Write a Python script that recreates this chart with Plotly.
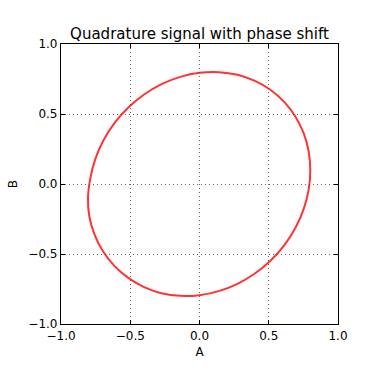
import plotly.graph_objects as go

# Points (closed loop)
A = [0.800, 0.788, 0.752, 0.693, 0.613, 0.514, 0.400, 0.274, 0.139, 0.000,
     -0.139, -0.274, -0.400, -0.514, -0.613, -0.693, -0.752, -0.788, -0.805,
     -0.795, -0.757, -0.697, -0.615, -0.514, -0.400, -0.274, -0.139, 0.000,
     0.139, 0.274, 0.400, 0.514, 0.613, 0.693, 0.752, 0.788, 0.800]
B = [0.098, 0.234, 0.363, 0.481, 0.585, 0.671, 0.736, 0.780, 0.799, 0.794,
     0.765, 0.713, 0.639, 0.546, 0.436, 0.313, 0.180, 0.042, -0.098,
     -0.234, -0.363, -0.481, -0.585, -0.671, -0.736, -0.780, -0.799, -0.794,
     -0.765, -0.713, -0.639, -0.546, -0.436, -0.313, -0.180, -0.042, 0.098]

tick_vals = [-1.0, -0.5, 0.0, 0.5, 1.0]
tick_text = ["\u22121.0", "\u22120.5", "0.0", "0.5", "1.0"]

fig = go.Figure()
fig.add_trace(go.Scatter(
    x=A, y=B, mode="lines",
    line=dict(color="rgba(255,0,0,0.8)", width=2, shape="spline", smoothing=1.0),
    hoverinfo="skip", showlegend=False,
))

axis_common = dict(
    range=[-1, 1], tickvals=tick_vals, ticktext=tick_text,
    showgrid=True, gridcolor="rgba(0,0,0,0.6)", griddash="1px,3px", gridwidth=1,
    zeroline=False, showline=True, linecolor="black", linewidth=1.2,
    mirror="allticks", ticks="inside", ticklen=4, tickcolor="black",
    tickfont=dict(family="DejaVu Sans", size=12, color="black"),
)

fig.update_layout(
    width=375, height=375,
    margin=dict(l=57, r=37, t=44, b=51),
    paper_bgcolor="white", plot_bgcolor="white",
    title=dict(text="Quadrature signal with phase shift",
               font=dict(family="DejaVu Sans", size=15, color="black"),
               x=0.5, xref="paper", xanchor="center",
               y=1, yref="paper", yanchor="bottom", pad=dict(b=5)),
    xaxis=dict(axis_common, title=dict(text="A", font=dict(family="DejaVu Sans", size=12, color="black"), standoff=6)),
    yaxis=dict(axis_common, title=dict(text="B", font=dict(family="DejaVu Sans", size=12, color="black"), standoff=8)),
)

fig.write_html("out.html")
